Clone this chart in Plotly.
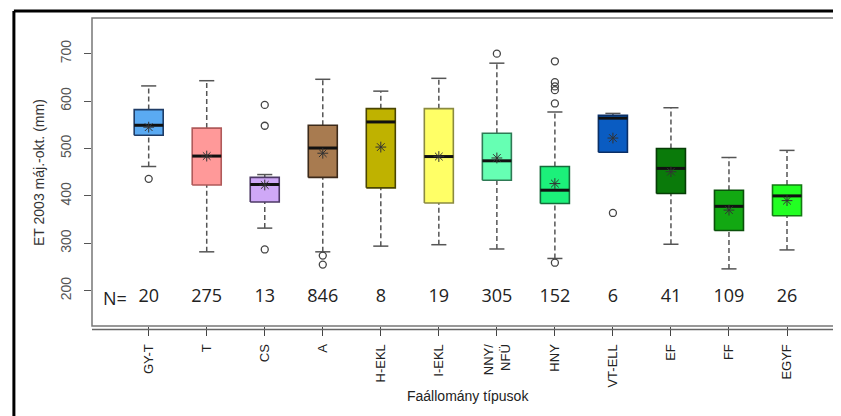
import plotly.graph_objects as go

categories = ["GY-T", "T", "CS", "A", "H-EKL", "I-EKL", "NNY/<br>NFÜ", "HNY",
              "VT-ELL", "EF", "FF", "EGYF"]
n_counts = [20, 275, 13, 846, 8, 19, 305, 152, 6, 41, 109, 26]
upper_whisker = [632, 643, 445, 646, 621, 648, 680, 577, 574, 586, 481, 496]
q3 = [582, 543, 439, 549, 584, 584, 532, 462, 570, 500, 412, 423]
median = [549, 484, 424, 501, 556, 483, 474, 412, 564, 458, 378, 400]
q1 = [528, 423, 387, 439, 417, 385, 433, 384, 492, 405, 327, 358]
lower_whisker = [462, 282, 332, 282, 294, 297, 288, 268, 492, 298, 246, 286]
means = [545, 484, 423, 490, 503, 483, 480, 426, 522, 451, 370, 390]
outliers = {
    "GY-T": [436],
    "CS": [592, 548, 287],
    "A": [274, 255],
    "NNY/<br>NFÜ": [700],
    "HNY": [684, 640, 631, 623, 595, 259],
    "VT-ELL": [364],
}
fill_colors = ["#5AAAF2", "#FF9999", "#CFA8F7", "#A87B50", "#BFB200", "#FFFF66",
               "#66FFB3", "#1CF07A", "#0A5CC2", "#0A7A0A", "#12A812", "#22FF22"]
edge_colors = ["#1F3C66", "#B05A5A", "#4D3A66", "#3C2A1A", "#4A4500", "#8A8A40",
               "#2E7A55", "#146B3A", "#0A2F66", "#063D06", "#0A500A", "#137A13"]

pos = list(range(1, len(categories) + 1))
hw = 0.25   # box half width
cw = 0.13   # cap half width

fig = go.Figure()

# whiskers (dashed)
wx, wy = [], []
for p, lo, a, b, hi in zip(pos, lower_whisker, q1, q3, upper_whisker):
    if hi > b:
        wx += [p, p, None]; wy += [b, hi, None]
    if lo < a:
        wx += [p, p, None]; wy += [lo, a, None]
fig.add_trace(go.Scatter(x=wx, y=wy, mode="lines",
                         line=dict(color="#555555", width=1.5, dash="5px,3px"),
                         hoverinfo="skip"))
# caps
cx, cy = [], []
for p, lo, a, hi in zip(pos, lower_whisker, q1, upper_whisker):
    cx += [p - cw, p + cw, None]; cy += [hi, hi, None]
    if lo < a:
        cx += [p - cw, p + cw, None]; cy += [lo, lo, None]
fig.add_trace(go.Scatter(x=cx, y=cy, mode="lines",
                         line=dict(color="#555555", width=1.5), hoverinfo="skip"))

# boxes
for p, a, b, fc, ec in zip(pos, q1, q3, fill_colors, edge_colors):
    fig.add_trace(go.Scatter(x=[p - hw, p + hw, p + hw, p - hw, p - hw],
                             y=[a, a, b, b, a], mode="lines", fill="toself",
                             fillcolor=fc, line=dict(color=ec, width=1.6),
                             hoverinfo="skip"))
# medians
mx, my = [], []
for p, m in zip(pos, median):
    mx += [p - hw, p + hw, None]; my += [m, m, None]
fig.add_trace(go.Scatter(x=mx, y=my, mode="lines",
                         line=dict(color="#111111", width=3), hoverinfo="skip"))

# outliers
ox, oy = [], []
for p, c in zip(pos, categories):
    for v in outliers.get(c, []):
        ox.append(p); oy.append(v)
fig.add_trace(go.Scatter(x=ox, y=oy, mode="markers",
                         marker=dict(symbol="circle-open", size=7,
                                     line=dict(color="#444444", width=1.3),
                                     color="#444444")))
# means
fig.add_trace(go.Scatter(x=pos, y=means, mode="markers",
                         marker=dict(symbol="asterisk-open", size=9,
                                     line=dict(color="#333333", width=1),
                                     color="#333333")))

# N labels
fig.add_trace(go.Scatter(x=pos, y=[185] * len(pos), mode="text",
                         text=[str(v) for v in n_counts],
                         textfont=dict(family="Open Sans", size=18, color="#222222"),
                         hoverinfo="skip"))
fig.add_annotation(x=0.42, y=185, xref="x", yref="y", text="N=", showarrow=False,
                   font=dict(family="Open Sans", size=18, color="#222222"))

# axis titles
fig.add_annotation(x=-0.0706, y=0.5, xref="paper", yref="paper",
                   xanchor="center", yanchor="middle",
                   text="ET 2003 máj.-okt. (mm)", textangle=-90, showarrow=False,
                   font=dict(family="Liberation Sans", size=14, color="#333333"))
fig.add_annotation(x=0.5, y=-0.26, xref="paper", yref="paper",
                   text="Faállomány típusok", showarrow=False,
                   font=dict(family="Liberation Sans", size=14, color="#222222"))

# frame and outer border
fig.add_shape(type="rect", xref="paper", yref="paper", x0=0, x1=1, y0=0, y1=1,
              line=dict(color="#777777", width=1.5))
fig.add_shape(type="line", xref="paper", yref="paper", x0=0, x1=1,
              y0=-0.011, y1=-0.011, line=dict(color="#666666", width=1.5))
fig.add_shape(type="line", xref="paper", yref="paper", x0=-0.104, x1=1.01,
              y0=1.0227, y1=1.0227, line=dict(color="#000000", width=3))
fig.add_shape(type="line", xref="paper", yref="paper", x0=-0.104, x1=-0.104,
              y0=-0.315, y1=1.0227, line=dict(color="#000000", width=3))
fig.add_shape(type="line", xref="paper", yref="paper", x0=-0.104, x1=1.01,
              y0=-0.3147, y1=-0.3147, line=dict(color="#000000", width=3))

fig.update_layout(
    width=841, height=416,
    margin=dict(l=84, r=6, t=10, b=98),
    paper_bgcolor="white", plot_bgcolor="white",
    showlegend=False,
    xaxis=dict(range=[0.023, 12.965], tickmode="array", tickvals=pos,
               ticktext=categories, tickangle=-90, ticks="outside", ticklen=9,
               tickcolor="#444444", showgrid=False, zeroline=False,
               showline=False, ticklabelstandoff=3,
               tickfont=dict(family="Liberation Sans", size=13, color="#222222")),
    yaxis=dict(range=[125.5, 775.3], tickmode="array",
               tickvals=[200, 300, 400, 500, 600, 700], tickangle=-90,
               ticks="outside", ticklen=7, tickcolor="#555555", showgrid=False,
               zeroline=False, showline=False, ticklabelstandoff=7,
               tickfont=dict(family="Liberation Sans", size=14, color="#555555")),
)

fig.write_html("out.html")
